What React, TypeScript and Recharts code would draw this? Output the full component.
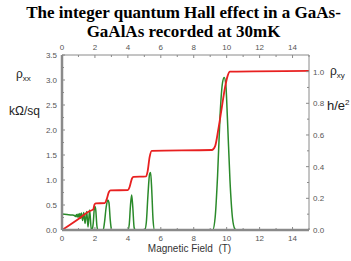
import React from 'react';
import { LineChart, Line, XAxis, YAxis } from 'recharts';

// rho_xx (kOhm/sq) vs magnetic field (T) — green, left axis
const greenB = [0, 0.3, 0.6, 0.75, 0.82, 0.88, 0.93, 0.98, 1.03, 1.08, 1.13, 1.18, 1.25, 1.32, 1.4, 1.5, 1.58, 1.68, 1.78, 1.84, 1.9, 1.96, 2.0, 2.05, 2.12, 2.18, 2.5, 2.58, 2.68, 2.78, 2.85, 2.93, 3.0, 3.05, 4.0, 4.08, 4.16, 4.23, 4.3, 4.38, 4.45, 5.02, 5.12, 5.22, 5.32, 5.38, 5.45, 5.53, 5.62, 9.15, 9.3, 9.45, 9.6, 9.75, 9.85, 9.95, 10.05, 10.2, 10.35, 10.5, 10.6, 15];
const greenRho = [0.32, 0.31, 0.3, 0.29, 0.27, 0.31, 0.26, 0.32, 0.25, 0.33, 0.23, 0.34, 0.19, 0.35, 0.13, 0.37, 0.06, 0.4, 0.0, 0.02, 0.15, 0.42, 0.47, 0.4, 0.08, 0.0, 0.0, 0.15, 0.45, 0.6, 0.55, 0.2, 0.02, 0.0, 0.0, 0.1, 0.5, 0.7, 0.45, 0.05, 0.0, 0.0, 0.15, 0.7, 1.12, 1.15, 0.8, 0.2, 0.0, 0.0, 0.25, 1.1, 2.3, 2.95, 3.05, 2.9, 2.2, 1.0, 0.25, 0.02, 0.0, 0.0];

// rho_xy (h/e^2) vs magnetic field (T) — red, right axis
const redB = [0, 1.0, 1.6, 1.8, 1.9, 1.97, 2.05, 2.6, 2.7, 2.85, 2.95, 4.0, 4.1, 4.25, 4.35, 5.1, 5.2, 5.32, 5.45, 9.1, 9.3, 9.5, 9.7, 9.9, 10.05, 10.2, 15];
const redRho = [0, 0.07, 0.115, 0.125, 0.13, 0.16, 0.168, 0.17, 0.19, 0.24, 0.25, 0.252, 0.27, 0.325, 0.335, 0.338, 0.37, 0.46, 0.5, 0.505, 0.53, 0.64, 0.77, 0.9, 0.97, 1.0, 1.005];

const fieldTicks = [0, 1, 2, 3, 4, 5, 6, 7, 8, 9, 10, 11, 12, 13, 14, 15];
const leftTicks = [0, 0.25, 0.5, 0.75, 1.0, 1.25, 1.5, 1.75, 2.0, 2.25, 2.5, 2.75, 3.0, 3.25, 3.5];
const rightTicks = [0, 0.1, 0.2, 0.3, 0.4, 0.5, 0.6, 0.7, 0.8, 0.9, 1.0];

const greenData = greenB.map((b, i) => ({ b, v: greenRho[i] }));
const redData = redB.map((b, i) => ({ b, v: redRho[i] }));

const FONT = '"Liberation Sans", Arial, sans-serif';
const TICK_COLOR = '#555';
const AXIS_COLOR = '#8a8a8a';

const isMajorField = (v: number) => v % 2 === 0 && v <= 14;
const isMajorLeft = (v: number) => Math.abs(v * 2 - Math.round(v * 2)) < 1e-6;
const isMajorRight = (v: number) => Math.abs(v * 5 - Math.round(v * 5)) < 1e-6;

const BottomTick = (props: any) => {
  const { x, y, payload } = props;
  const v = payload.value;
  const major = isMajorField(v);
  return (
    <g>
      <line x1={x} x2={x} y1={y} y2={y - (major ? 3 : 2)} stroke={AXIS_COLOR} strokeWidth={1} />
      {major && (
        <text x={x} y={y + 11} textAnchor="middle" fontSize={8} fill={TICK_COLOR} fontFamily={FONT}>
          {v}
        </text>
      )}
    </g>
  );
};

const TopTick = (props: any) => {
  const { x, y, payload } = props;
  const v = payload.value;
  const major = isMajorField(v);
  return (
    <g>
      <line x1={x} x2={x} y1={y} y2={y + (major ? 3 : 2)} stroke={AXIS_COLOR} strokeWidth={1} />
      {major && (
        <text x={x} y={y - 5} textAnchor="middle" fontSize={8} fill={TICK_COLOR} fontFamily={FONT}>
          {v}
        </text>
      )}
    </g>
  );
};

const LeftTick = (props: any) => {
  const { x, y, payload } = props;
  const v = payload.value;
  const major = isMajorLeft(v);
  return (
    <g>
      <line x1={x} x2={x + (major ? 3 : 2)} y1={y} y2={y} stroke={AXIS_COLOR} strokeWidth={1} />
      {major && (
        <text x={x - 5} y={y + 3} textAnchor="end" fontSize={8} fill={TICK_COLOR} fontFamily={FONT}>
          {v.toFixed(1)}
        </text>
      )}
    </g>
  );
};

const RightTick = (props: any) => {
  const { x, y, payload } = props;
  const v = payload.value;
  const major = isMajorRight(v);
  return (
    <g>
      <line x1={x} x2={x - (major ? 3 : 2)} y1={y} y2={y} stroke={AXIS_COLOR} strokeWidth={1} />
      {major && (
        <text x={x + 4} y={y + 3} textAnchor="start" fontSize={8} fill={TICK_COLOR} fontFamily={FONT}>
          {v.toFixed(1)}
        </text>
      )}
    </g>
  );
};

export default function App() {
  return (
    <div style={{ position: 'absolute', left: 0, top: 0, width: 351, height: 261, background: '#fff' }}>
      <div
        style={{
          position: 'absolute',
          left: 0,
          top: 3,
          width: 351,
          textAlign: 'center',
          fontFamily: 'Liberation Serif, Tinos, DejaVu Serif, serif',
          fontWeight: 700,
          fontSize: 17,
          lineHeight: '19px',
          color: '#000',
          paddingLeft: 16,
          boxSizing: 'border-box',
        }}
      >
        The integer quantum Hall effect in a GaAs-
        <br />
        GaAlAs recorded at 30mK
      </div>
      <LineChart width={351} height={261} margin={{ top: 35, right: 12, bottom: 11, left: 32 }}>
        <XAxis
          xAxisId="b"
          dataKey="b"
          type="number"
          domain={[0, 15]}
          ticks={fieldTicks}
          allowDataOverflow
          orientation="bottom"
          height={20}
          tickSize={0}
          tickMargin={0}
          tickLine={false}
          tick={<BottomTick />}
          interval={0}
          axisLine={{ stroke: AXIS_COLOR, strokeWidth: 2.5 }}
        />
        <XAxis
          xAxisId="t"
          dataKey="b"
          type="number"
          domain={[0, 15]}
          ticks={fieldTicks}
          allowDataOverflow
          orientation="top"
          height={20}
          tickSize={0}
          tickMargin={0}
          tickLine={false}
          tick={<TopTick />}
          interval={0}
          axisLine={{ stroke: AXIS_COLOR, strokeWidth: 1 }}
        />
        <YAxis
          yAxisId="L"
          type="number"
          domain={[0, 3.5]}
          ticks={leftTicks}
          allowDataOverflow
          orientation="left"
          width={30}
          tickSize={0}
          tickMargin={0}
          tickLine={false}
          tick={<LeftTick />}
          interval={0}
          axisLine={{ stroke: AXIS_COLOR, strokeWidth: 2.5 }}
        />
        <YAxis
          yAxisId="R"
          type="number"
          domain={[0, 1.105]}
          ticks={rightTicks}
          allowDataOverflow
          orientation="right"
          width={30}
          tickSize={0}
          tickMargin={0}
          tickLine={false}
          tick={<RightTick />}
          interval={0}
          axisLine={{ stroke: AXIS_COLOR, strokeWidth: 1 }}
        />
        <Line
          xAxisId="b"
          yAxisId="L"
          data={greenData}
          dataKey="v"
          type="monotone"
          stroke="#2a8a2a"
          strokeWidth={1.5}
          dot={false}
          isAnimationActive={false}
        />
        <Line
          xAxisId="b"
          yAxisId="R"
          data={redData}
          dataKey="v"
          type="monotone"
          stroke="#e82020"
          strokeWidth={1.8}
          dot={false}
          isAnimationActive={false}
        />
      </LineChart>
      <div style={{ position: 'absolute', left: 16, top: 67, fontFamily: FONT, fontSize: 12, color: '#222' }}>
        ρ<sub style={{ fontSize: 8 }}>xx</sub>
      </div>
      <div style={{ position: 'absolute', left: 9, top: 104, fontFamily: FONT, fontSize: 12, color: '#222' }}>
        kΩ/sq
      </div>
      <div style={{ position: 'absolute', left: 330, top: 64, fontFamily: FONT, fontSize: 12, color: '#222' }}>
        ρ<sub style={{ fontSize: 8 }}>xy</sub>
      </div>
      <div style={{ position: 'absolute', left: 327, top: 98, fontFamily: FONT, fontSize: 13, color: '#222' }}>
        h/e<sup style={{ fontSize: 8 }}>2</sup>
      </div>
      <div
        style={{
          position: 'absolute',
          left: 0,
          width: 351,
          top: 243,
          paddingLeft: 28,
          boxSizing: 'border-box',
          textAlign: 'center',
          fontFamily: FONT,
          fontSize: 10,
          color: '#333',
          whiteSpace: 'pre',
        }}
      >
        {'Magnetic Field  (T)'}
      </div>
    </div>
  );
}
